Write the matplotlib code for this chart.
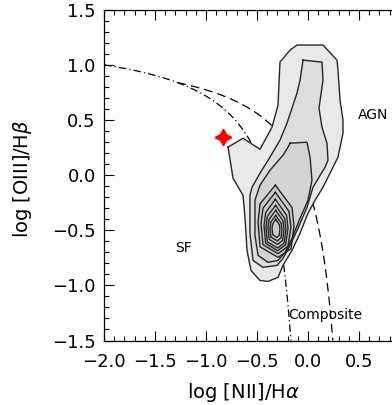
import numpy as np
import matplotlib
matplotlib.use("Agg")
import matplotlib.pyplot as plt
from matplotlib.ticker import MultipleLocator

# --- demarcation curves: y = a / (x - b) + c ---
kauffmann = dict(a=0.61, b=0.05, c=1.30, x_start=-2.0)   # Kauffmann et al. (2003)
kewley = dict(a=0.61, b=0.47, c=1.19, x_start=-1.28)     # Kewley et al. (2001)

# --- density contours of the galaxy sample (log NII/Ha, log OIII/Hb) ---
contour_1 = [(-0.784, 0.255), (-0.637, 0.336), (-0.471, 0.236), (-0.353, 0.436),
             (-0.294, 0.636), (-0.275, 1.027), (-0.176, 1.136), (-0.108, 1.182),
             (0.147, 1.182), (0.284, 1.045), (0.294, 0.955), (0.314, 0.682),
             (0.343, 0.500), (0.343, 0.382), (0.294, 0.164), (0.147, -0.109),
             (0.069, -0.227), (0.000, -0.345), (-0.078, -0.527), (-0.157, -0.682),
             (-0.245, -0.818), (-0.294, -0.927), (-0.392, -0.964), (-0.471, -0.955),
             (-0.559, -0.864), (-0.598, -0.682), (-0.618, -0.382), (-0.637, -0.182),
             (-0.735, -0.027)]
contour_2 = [(-0.049, 1.045), (0.137, 1.027), (0.147, 0.864), (0.108, 0.609),
             (0.137, 0.436), (0.186, 0.291), (0.196, 0.136), (0.167, 0.073),
             (0.049, -0.109), (-0.010, -0.291), (-0.098, -0.482), (-0.176, -0.636),
             (-0.245, -0.755), (-0.304, -0.818), (-0.441, -0.836), (-0.539, -0.773),
             (-0.569, -0.527), (-0.569, -0.182), (-0.549, -0.109), (-0.471, 0.018),
             (-0.373, 0.164), (-0.275, 0.318), (-0.206, 0.473), (-0.108, 0.745),
             (-0.078, 0.864)]
contour_3 = [(-0.176, 0.291), (-0.010, 0.300), (0.020, 0.164), (0.039, -0.045),
             (0.000, -0.227), (-0.078, -0.391), (-0.157, -0.573), (-0.225, -0.700),
             (-0.294, -0.773), (-0.392, -0.791), (-0.490, -0.727), (-0.520, -0.545),
             (-0.520, -0.227), (-0.471, -0.091), (-0.373, 0.045), (-0.245, 0.182),
             (-0.196, 0.255)]
contour_4 = [(-0.320, -0.090), (-0.157, -0.292), (-0.137, -0.461), (-0.167, -0.668),
             (-0.294, -0.745), (-0.470, -0.650), (-0.490, -0.427), (-0.470, -0.259)]
contour_5 = [(-0.320, -0.155), (-0.187, -0.327), (-0.167, -0.470), (-0.197, -0.645),
             (-0.294, -0.712), (-0.441, -0.630), (-0.461, -0.441), (-0.441, -0.298)]
contour_6 = [(-0.320, -0.218), (-0.210, -0.363), (-0.196, -0.483), (-0.220, -0.632),
             (-0.298, -0.685), (-0.415, -0.618), (-0.431, -0.459), (-0.415, -0.339)]
contour_7 = [(-0.318, -0.273), (-0.228, -0.393), (-0.216, -0.493), (-0.236, -0.618),
             (-0.298, -0.660), (-0.398, -0.605), (-0.412, -0.473), (-0.398, -0.373)]
contour_8 = [(-0.316, -0.318), (-0.245, -0.413), (-0.235, -0.493), (-0.250, -0.592),
             (-0.298, -0.628), (-0.380, -0.582), (-0.392, -0.477), (-0.380, -0.398)]
contour_9 = [(-0.316, -0.364), (-0.263, -0.435), (-0.255, -0.494), (-0.265, -0.568),
             (-0.300, -0.596), (-0.363, -0.562), (-0.373, -0.482), (-0.363, -0.423)]
contour_10 = [(-0.316, -0.400), (-0.280, -0.450), (-0.275, -0.490), (-0.282, -0.545),
              (-0.305, -0.564), (-0.345, -0.540), (-0.353, -0.482), (-0.345, -0.440)]
contours = [contour_1, contour_2, contour_3, contour_4, contour_5,
            contour_6, contour_7, contour_8, contour_9, contour_10]
# shading of the point cloud inside the outer levels
cloud_shades = ["#e9e9e9", "#dddddd", "#d3d3d3", "#cacaca"]

# --- the highlighted source ---
source_x = [-0.83]
source_y = [0.345]

# --- region labels ---
region_names = ["AGN", "SF", "Composite"]
region_x = [0.64, -1.225, -0.196]
region_y = [0.545, -0.664, -1.273]
region_ha = ["center", "center", "left"]

x_ticks = [-2.0, -1.5, -1.0, -0.5, 0.0, 0.5]
y_ticks = [-1.5, -1.0, -0.5, 0.0, 0.5, 1.0, 1.5]
x_range = (-2.0, 1.0)
y_range = (-1.5, 1.5)

W, H = 392, 405
fig = plt.figure(figsize=(W / 100, H / 100), dpi=100)
ax = fig.add_axes([104 / W, 64.5 / H, 306 / W, 330.5 / H])


def demarcation(p):
    x_end = p["b"] + p["a"] / (y_range[0] - p["c"])
    x = np.linspace(p["x_start"], x_end, 400)
    return x, p["a"] / (x - p["b"]) + p["c"]


kx, ky = demarcation(kauffmann)
ax.plot(kx, ky, color="black", lw=0.9, ls=(0, (6, 2.5, 1, 2.5)), zorder=1)
wx, wy = demarcation(kewley)
ax.plot(wx, wy, color="black", lw=0.9, ls=(0, (7, 4)), zorder=1)

for poly, shade in zip(contours, cloud_shades):
    px, py = zip(*poly)
    ax.fill(px, py, color=shade, lw=0, zorder=2)

for poly in contours:
    px, py = zip(*(poly + poly[:1]))
    ax.plot(px, py, color="#262626", lw=1.0, zorder=3)

ax.plot(source_x, source_y, ls="none", marker=(4, 1, 0), ms=12,
        color="red", mec="red", zorder=4)

for name, tx, ty, ha in zip(region_names, region_x, region_y, region_ha):
    ax.text(tx, ty, name, ha=ha, va="center", fontsize=10, zorder=5)

ax.set_xlim(*x_range)
ax.set_ylim(*y_range)
ax.set_xticks(x_ticks)
ax.set_yticks(y_ticks)
ax.xaxis.set_minor_locator(MultipleLocator(0.1))
ax.yaxis.set_minor_locator(MultipleLocator(0.1))
ax.set_xticklabels([f"{v:.1f}".replace("-", "\u2212") for v in x_ticks])
ax.set_yticklabels([f"{v:.1f}".replace("-", "\u2212") for v in y_ticks])
ax.tick_params(which="both", direction="in", top=True, right=False,
               width=0.8, labelsize=13)
ax.tick_params(which="major", length=7)
ax.tick_params(which="minor", length=3.5)
ax.tick_params(axis="x", pad=9)
ax.tick_params(axis="y", pad=6)
for s in ax.spines.values():
    s.set_linewidth(0.9)

ax.set_xlabel(r"log [NII]/H$\alpha$", fontsize=14)
ax.set_ylabel(r"log [OIII]/H$\beta$", fontsize=14)
ax.xaxis.set_label_coords(0.454, -0.156)
ax.yaxis.set_label_coords(-0.267, 0.49)
ax.xaxis.label.set_va("center")
ax.yaxis.label.set_va("center")

fig.savefig("out.png", dpi=100)
